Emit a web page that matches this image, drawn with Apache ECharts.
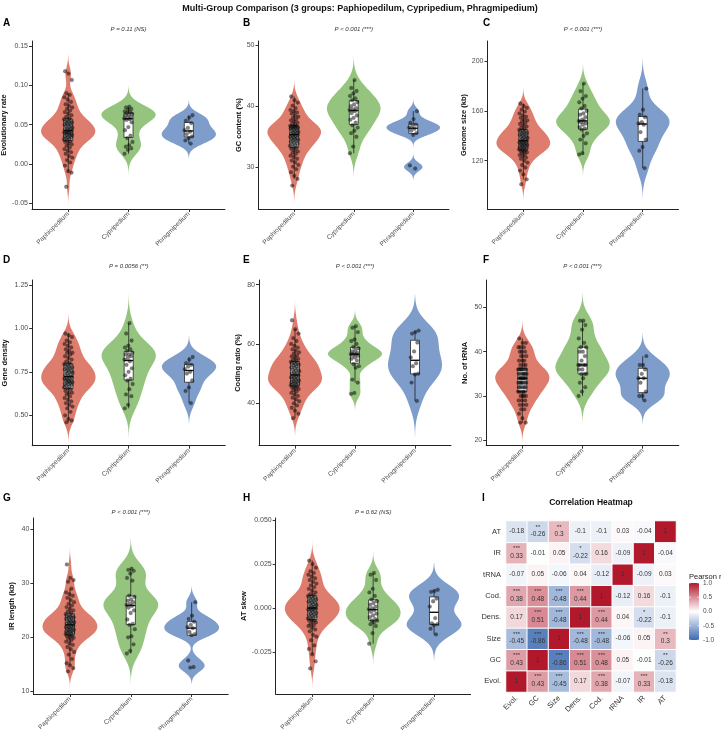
<!DOCTYPE html>
<html><head><meta charset="utf-8">
<script src="https://cdn.jsdelivr.net/npm/echarts@6/dist/echarts.min.js"></script>
<style>html,body{margin:0;padding:0;background:#fff}#c{width:721px;height:730px}</style>
</head><body><div id="c"></div>
<script>
// ---------------- DATA ----------------
const groups = ['Paphiopedilum', 'Cypripedium', 'Phragmipedium'];

const evol_Paph = [-0.029,-0.011,-0.009,-0.002,0.002,0.005,0.008,0.010,0.013,0.015,0.017,0.019,0.021,0.023,0.025,0.026,0.028,0.029,
  0.030,0.031,0.032,0.033,0.034,0.034,0.035,0.036,0.037,0.037,0.038,0.039,0.039,0.040,0.040,0.041,0.041,0.042,
  0.043,0.044,0.045,0.045,0.046,0.047,0.048,0.049,0.050,0.050,0.051,0.052,0.053,0.054,0.054,0.055,0.056,0.057,
  0.058,0.060,0.062,0.064,0.066,0.068,0.070,0.072,0.074,0.076,0.079,0.082,0.085,0.088,0.090,0.107,0.115,0.118];
const evol_Cyp = [0.073,0.072,0.070,0.069,0.067,0.066,0.065,0.064,0.063,0.062,0.060,0.059,0.058,0.057,0.056,0.053,0.047,0.043,0.036,0.033,0.028,0.024,0.022,0.020,0.018,0.013];
const evol_Phr = [0.062,0.059,0.055,0.052,0.046,0.043,0.041,0.038,0.035,0.033,0.030,0.026];

const gc_Paph = [27.0,28.1,28.6,29.2,29.7,30.1,30.4,30.8,31.1,31.4,31.7,31.9,32.2,32.4,32.6,32.8,33.0,33.2,
  33.3,33.5,33.6,33.8,33.9,34.0,34.2,34.3,34.4,34.5,34.6,34.7,34.8,34.9,35.0,35.1,35.2,35.3,
  35.4,35.5,35.6,35.7,35.8,35.9,36.0,36.1,36.2,36.3,36.4,36.5,36.5,36.6,36.6,36.7,36.7,36.8,
  36.9,37.1,37.3,37.5,37.7,37.9,38.1,38.3,38.5,38.8,39.0,39.2,39.4,39.7,40.1,40.6,41.0,41.6];
const gc_Cyp = [44.3,43.0,42.5,42.1,41.7,41.3,41.0,40.7,40.3,40.0,39.7,39.5,39.4,39.2,38.9,38.5,38.1,37.8,37.3,36.9,36.5,36.0,35.6,35.0,33.4,32.3];
const gc_Phr = [39.2,37.9,37.3,37.0,36.8,36.5,36.3,36.0,35.6,35.3,30.3,29.8];

const size_Paph = [101,105,109,112,114.5,116.5,118.5,120,121.5,122.5,123.5,124.5,125.3,126,126.7,127.3,127.9,128.4,
  128.8,129.2,129.7,130.1,130.5,131,131.4,131.8,132.2,132.6,133,133.4,133.8,134.2,134.6,135,135.4,135.8,
  136.3,136.8,137.3,137.8,138.3,138.8,139.3,139.8,140.3,140.8,141.3,141.8,142.3,142.8,143.3,143.8,144.3,144.8,
  145.5,146.5,147.5,148.5,149.5,150.5,151.5,152.5,153.5,154.5,155.5,156.5,158,159.5,161,162.5,164,166];
const size_Cyp = [182,176,172,170,167,164,162,160,158,157,155,153,152,152,151,150,149,147,146,145,142,140,137,134,126,125];
const size_Phr = [178,161,157,155,151,150,149,143,137,131,128,114];

const dens_Paph = [0.46,0.47,0.48,0.50,0.52,0.54,0.55,0.56,0.57,0.58,0.59,0.60,0.61,0.62,0.63,0.63,0.64,0.65,
  0.655,0.66,0.665,0.67,0.675,0.68,0.68,0.685,0.69,0.69,0.695,0.70,0.70,0.705,0.71,0.71,0.715,0.72,
  0.725,0.73,0.735,0.74,0.745,0.75,0.75,0.755,0.76,0.765,0.77,0.77,0.775,0.78,0.785,0.79,0.79,0.795,
  0.80,0.81,0.82,0.83,0.84,0.85,0.86,0.86,0.87,0.88,0.89,0.90,0.91,0.92,0.93,0.95,0.96,0.97];
const dens_Cyp = [1.03,0.97,0.93,0.90,0.89,0.88,0.87,0.86,0.85,0.85,0.84,0.83,0.82,0.81,0.79,0.77,0.75,0.73,0.71,0.70,0.68,0.65,0.62,0.61,0.56,0.54];
const dens_Phr = [0.835,0.82,0.80,0.79,0.78,0.765,0.75,0.74,0.70,0.66,0.64,0.57];

const cod_Paph = [35.0,36.5,37.5,38.5,39.3,40.0,40.7,41.3,41.9,42.5,43.0,43.5,44.0,44.4,44.8,45.1,45.4,45.7,
  45.9,46.1,46.3,46.5,46.7,46.9,47.1,47.3,47.5,47.7,47.9,48.1,48.4,48.6,48.8,49.0,49.2,49.4,
  49.7,50.0,50.2,50.5,50.8,51.0,51.3,51.6,51.9,52.1,52.4,52.7,53.0,53.2,53.4,53.6,53.8,54.0,
  54.3,54.6,55.0,55.4,55.8,56.2,56.7,57.2,57.7,58.2,58.8,59.4,60.0,61.0,62.0,63.5,65.0,68.0];
const cod_Cyp = [66.0,65.5,64.0,61.5,61.0,60.0,59.0,58.5,58.0,57.5,57.0,56.8,56.6,56.5,56.3,56.0,55.5,55.0,54.5,53.2,52.5,52.0,48.0,47.0,43.5,43.2];
const cod_Phr = [64.5,64.0,63.5,60.5,57.5,55.5,53.5,52.5,50.0,49.7,47.0,40.8];

const trna_Paph = [24,24,25,26,27,27,28,28,28,29,29,29,30,30,30,30,31,31,
  31,31,31,32,32,32,32,32,33,33,33,33,33,33,33,34,34,34,
  34,34,34,34,35,35,35,35,35,35,35,36,36,36,36,36,36,36,
  37,37,37,38,38,38,39,39,39,40,40,40,41,41,41,42,42,43];
const trna_Cyp = [47,47,46,45,43,42,41,41,40,40,39,38,37,37,37,37,36,36,35,35,35,34,33,32,31,30];
const trna_Phr = [39,37,37,36,35,34,34,33,31,30,30,29];

const ir_Paph = [13.7,14.3,14.8,15.2,16.0,16.8,17.3,17.8,18.2,18.6,18.9,19.2,19.5,19.7,19.9,20.1,20.2,20.3,
  20.5,20.6,20.7,20.8,20.9,21.0,21.1,21.2,21.3,21.4,21.5,21.6,21.7,21.8,21.9,22.0,22.1,22.2,
  22.4,22.5,22.6,22.7,22.8,22.9,23.0,23.1,23.2,23.4,23.5,23.6,23.7,23.8,23.9,24.0,24.1,24.3,
  24.5,24.8,25.0,25.3,25.6,25.9,26.2,26.5,26.9,27.3,27.7,28.0,28.3,29.0,30.3,30.6,31.0,33.5];
const ir_Cyp = [32.7,32.5,32.3,31.8,31.0,30.5,27.7,27.5,27.0,26.8,26.5,26.2,26.0,25.8,25.5,25.0,24.5,23.3,22.5,22.3,21.5,20.2,20.0,18.7,17.5,17.0];
const ir_Phr = [26.5,24.0,23.4,22.9,22.3,21.9,21.7,21.0,20.6,20.4,15.7,14.5,14.4];

const at_Paph = [-0.034,-0.030,-0.026,-0.023,-0.021,-0.018,-0.016,-0.015,-0.013,-0.012,-0.011,-0.010,-0.0095,-0.009,-0.008,-0.0075,-0.007,-0.0068,
  -0.0062,-0.0058,-0.0054,-0.005,-0.0046,-0.0042,-0.0038,-0.0034,-0.003,-0.0026,-0.0022,-0.0018,-0.0014,-0.001,-0.0007,-0.0004,-0.0002,0.0,
  0.0003,0.0007,0.001,0.0014,0.0018,0.0022,0.0026,0.003,0.0034,0.0038,0.0042,0.0046,0.005,0.0054,0.0058,0.0062,0.0066,0.007,
  0.0075,0.008,0.009,0.010,0.011,0.012,0.013,0.014,0.015,0.016,0.017,0.018,0.019,0.020,0.021,0.023,0.025,0.027];
const at_Cyp = [0.020,0.019,0.016,0.011,0.009,0.007,0.005,0.004,0.003,0.002,0.001,0.0,-0.0005,-0.001,-0.002,-0.003,-0.004,-0.005,-0.006,-0.007,-0.007,-0.008,-0.009,-0.010,-0.014,-0.020];
const at_Phr = [0.0105,0.0098,0.0093,0.0055,0.004,0.001,-0.0055,-0.0085,-0.009,-0.0095,-0.0115,-0.0148];

const yTitles = ['Evolutionary rate','GC content (%)','Genome size (kb)','Gene density','Coding ratio (%)','No. of tRNA','IR length (kb)','AT skew'];
const pTexts = ['P = 0.11 (NS)','P < 0.001 (***)','P < 0.001 (***)','P = 0.0056 (**)','P < 0.001 (***)','P < 0.001 (***)','P < 0.001 (***)','P = 0.62 (NS)'];
const panelLetters = ['A','B','C','D','E','F','G','H'];
const evolTicks = [-0.05,0,0.05,0.10,0.15];
const gcTicks = [30,40,50];
const sizeTicks = [120,160,200];
const densTicks = [0.50,0.75,1.00,1.25];
const codTicks = [40,60,80];
const trnaTicks = [20,30,40,50];
const irTicks = [10,20,30,40];
const atTicks = [-0.025,0,0.025,0.050];

const corrVars = ['Evol.','GC','Size','Dens.','Cod.','tRNA','IR','AT'];
const corrMatrix = [
  [1, 0.43, -0.45, 0.17, 0.38, -0.07, 0.33, -0.18],
  [0.43, 1, -0.86, 0.51, 0.48, 0.05, -0.01, -0.26],
  [-0.45, -0.86, 1, -0.48, -0.48, -0.06, 0.05, 0.3],
  [0.17, 0.51, -0.48, 1, 0.44, 0.04, -0.22, -0.1],
  [0.38, 0.48, -0.48, 0.44, 1, -0.12, 0.16, -0.1],
  [-0.07, 0.05, -0.06, 0.04, -0.12, 1, -0.09, 0.03],
  [0.33, -0.01, 0.05, -0.22, 0.16, -0.09, 1, -0.04],
  [-0.18, -0.26, 0.3, -0.1, -0.1, 0.03, -0.04, 1]
];
const corrStars = [
  ['', '***', '***', '', '***', '', '***', ''],
  ['***', '', '***', '***', '***', '', '', '**'],
  ['***', '***', '', '***', '***', '', '', '**'],
  ['', '***', '***', '', '***', '', '*', ''],
  ['***', '***', '***', '***', '', '', '', ''],
  ['', '', '', '', '', '', '', ''],
  ['***', '', '', '*', '', '', '', ''],
  ['', '**', '**', '', '', '', '', '']
];
const legendTicks = [1.0, 0.5, 0.0, -0.5, -1.0];

// ---------------- STYLE / LAYOUT ----------------
const FONT = '"Liberation Sans", Arial, Helvetica, sans-serif';
const fillColors = ['#DE7C6D', '#94C47D', '#7E9DCB'];
const hmLow = '#3E6BB2', hmMid = '#FFFFFF', hmHigh = '#B2182B';

const panels = [
  {d:[evol_Paph,evol_Cyp,evol_Phr], ticks:evolTicks, dec:2, l:32, r:225, t:41, b:209, min:-0.0573, max:0.1565, nameGap:19},
  {d:[gc_Paph,gc_Cyp,gc_Phr], ticks:gcTicks, dec:0, l:258.5, r:449, t:41, b:209, min:23.16, max:50.70, nameGap:12},
  {d:[size_Paph,size_Cyp,size_Phr], ticks:sizeTicks, dec:0, l:487.5, r:678.5, t:41, b:209, min:81.1, max:216.3, nameGap:15},
  {d:[dens_Paph,dens_Cyp,dens_Phr], ticks:densTicks, dec:2, l:32.2, r:225.2, t:280, b:445.7, min:0.3253, max:1.2776, nameGap:19},
  {d:[cod_Paph,cod_Cyp,cod_Phr], ticks:codTicks, dec:0, l:259, r:451, t:280, b:445.7, min:25.71, max:81.56, nameGap:13},
  {d:[trna_Paph,trna_Cyp,trna_Phr], ticks:trnaTicks, dec:0, l:486.2, r:678.8, t:280, b:445.7, min:18.78, max:56.18, nameGap:13},
  {d:[ir_Paph,ir_Cyp,ir_Phr], ticks:irTicks, dec:0, l:33.4, r:228.2, t:518, b:694, min:9.5, max:42.09, nameGap:13},
  {d:[at_Paph,at_Cyp,at_Phr], ticks:atTicks, dec:3, l:275.7, r:470.6, t:518, b:694, min:-0.04847, max:0.05108, nameGap:22}
];
const rowLabelY = [23, 23, 23, 260, 260, 260, 498, 498];
const rowPY = [29, 29, 29, 266, 266, 266, 512, 512];
const letterX = [3, 243, 483, 3, 243, 483, 3, 243];

// ---------------- HELPERS ----------------
function quant(s, p) { const h = (s.length - 1) * p, l = Math.floor(h); const u = Math.min(l + 1, s.length - 1); return s[l] + (h - l) * (s[u] - s[l]); }
function kde(vals) {
  const s = [...vals].sort((a, b) => a - b), n = s.length;
  const mean = s.reduce((a, b) => a + b, 0) / n;
  const sd = Math.sqrt(s.reduce((a, b) => a + (b - mean) * (b - mean), 0) / (n - 1));
  const iqr = quant(s, 0.75) - quant(s, 0.25);
  let lo = Math.min(sd, iqr / 1.34); if (!(lo > 0)) lo = sd;
  const bw = 0.9 * lo * Math.pow(n, -0.2);
  const a = s[0] - 3 * bw, b = s[n - 1] + 3 * bw, m = 256;
  const ys = [], ds = []; let mx = 0;
  for (let i = 0; i <= m; i++) {
    const y = a + (b - a) * i / m; let d = 0;
    for (const v of s) { const z = (y - v) / bw; d += Math.exp(-0.5 * z * z); }
    d /= n * bw * Math.sqrt(2 * Math.PI); ys.push(y); ds.push(d); if (d > mx) mx = d;
  }
  return {ys, ds, max: mx};
}
function boxStats(vals) {
  const s = [...vals].sort((a, b) => a - b);
  const q1 = quant(s, 0.25), q3 = quant(s, 0.75), med = quant(s, 0.5), iqr = q3 - q1;
  const lo = s.find(v => v >= q1 - 1.5 * iqr), hi = [...s].reverse().find(v => v <= q3 + 1.5 * iqr);
  return {q1, q3, med, lo, hi};
}
function jit(i) { return (((i * 0.6180339887 + 0.27) % 1) * 2 - 1) * 0.072; }
function fmt(v, dec) { return v.toFixed(dec); }

// ---------------- BUILD ----------------
const grid = [], xAxis = [], yAxis = [], series = [], graphic = [];
panels.forEach((P, pi) => {
  grid.push({left: P.l, top: P.t, width: P.r - P.l, height: P.b - P.t, outerBoundsMode: 'none', containLabel: false});
  xAxis.push({
    gridIndex: pi, type: 'value', min: 0.4, max: 3.6,
    axisLine: {show: true, onZero: false, lineStyle: {color: '#222', width: 1}},
    axisTick: {show: true, customValues: [1, 2, 3], length: 3, lineStyle: {color: '#333'}},
    axisLabel: {show: true, customValues: [1, 2, 3], rotate: 45, fontSize: 6.5, color: '#4D4D4D', margin: 4, fontFamily: FONT,
      formatter: v => groups[Math.round(v) - 1]},
    splitLine: {show: false}
  });
  yAxis.push({
    gridIndex: pi, type: 'value', min: P.min, max: P.max,
    name: yTitles[pi], nameLocation: 'middle', nameGap: P.nameGap + 4,
    nameTextStyle: {fontSize: 7.5, fontWeight: 'bold', color: '#111', fontFamily: FONT},
    axisLine: {show: true, onZero: false, lineStyle: {color: '#222', width: 1}},
    axisTick: {show: true, customValues: P.ticks, length: 3, lineStyle: {color: '#333'}},
    axisLabel: {show: true, customValues: P.ticks, fontSize: 7, color: '#4D4D4D', margin: 4, fontFamily: FONT,
      formatter: v => fmt(v, P.dec)},
    splitLine: {show: false}
  });
  const dens = P.d.map(kde);
  const boxes = P.d.map(boxStats);
  series.push({
    type: 'custom', xAxisIndex: pi, yAxisIndex: pi, silent: true, z: 1,
    data: dens.map((d, i) => [i + 1, d.ys[0], d.ys[d.ys.length - 1]]),
    encode: {x: 0, y: [1, 2]},
    renderItem: (params, api) => {
      const i = params.dataIndex, d = dens[i], cx = i + 1, pts = [];
      for (let k = 0; k < d.ys.length; k++) pts.push(api.coord([cx + 0.45 * d.ds[k] / d.max, d.ys[k]]));
      for (let k = d.ys.length - 1; k >= 0; k--) pts.push(api.coord([cx - 0.45 * d.ds[k] / d.max, d.ys[k]]));
      return {type: 'polygon', shape: {points: pts}, style: {fill: fillColors[i], stroke: null}};
    }
  });
  series.push({
    type: 'custom', xAxisIndex: pi, yAxisIndex: pi, silent: true, z: 2,
    data: boxes.map((b, i) => [i + 1, b.lo, b.hi]),
    encode: {x: 0, y: [1, 2]},
    renderItem: (params, api) => {
      const i = params.dataIndex, b = boxes[i], cx = i + 1, hw = 0.075;
      const tl = api.coord([cx - hw, b.q3]), br = api.coord([cx + hw, b.q1]);
      const m1 = api.coord([cx - hw, b.med]), m2 = api.coord([cx + hw, b.med]);
      const wh = api.coord([cx, b.hi]), w3 = api.coord([cx, b.q3]), w1 = api.coord([cx, b.q1]), wl = api.coord([cx, b.lo]);
      const ls = {stroke: '#111', lineWidth: 0.7};
      return {type: 'group', children: [
        {type: 'line', shape: {x1: wh[0], y1: wh[1], x2: w3[0], y2: w3[1]}, style: ls},
        {type: 'line', shape: {x1: w1[0], y1: w1[1], x2: wl[0], y2: wl[1]}, style: ls},
        {type: 'rect', shape: {x: tl[0], y: tl[1], width: br[0] - tl[0], height: br[1] - tl[1]}, style: {fill: '#fff', stroke: '#111', lineWidth: 0.7}},
        {type: 'line', shape: {x1: m1[0], y1: m1[1], x2: m2[0], y2: m2[1]}, style: {stroke: '#111', lineWidth: 1.4}}
      ]};
    }
  });
  const pts = [];
  P.d.forEach((arr, gi) => arr.forEach((v, i) => pts.push([gi + 1 + jit(i + gi * 7), v])));
  series.push({
    type: 'scatter', xAxisIndex: pi, yAxisIndex: pi, silent: true, z: 3, data: pts,
    symbolSize: 3.8, itemStyle: {color: 'rgba(0,0,0,0.62)', borderColor: 'rgba(40,40,40,0.5)', borderWidth: 0.4}
  });
  graphic.push({type: 'text', x: letterX[pi], y: rowLabelY[pi],
    style: {text: panelLetters[pi], font: 'bold 10px ' + FONT, fill: '#000', textVerticalAlign: 'middle', textAlign: 'left'}, silent: true});
  graphic.push({type: 'text', x: (P.l + P.r) / 2, y: rowPY[pi],
    style: {text: pTexts[pi], font: 'italic 6px ' + FONT, fill: '#333', textAlign: 'center', textVerticalAlign: 'middle'}, silent: true});
});

// heatmap
const hmIdx = panels.length;
grid.push({left: 506, top: 521, width: 170, height: 171, outerBoundsMode: 'none', containLabel: false});
xAxis.push({gridIndex: hmIdx, type: 'category', data: corrVars, axisLine: {show: false}, axisTick: {show: false}, splitLine: {show: false},
  axisLabel: {rotate: 45, fontSize: 7.5, color: '#333', margin: 5, fontFamily: FONT}});
yAxis.push({gridIndex: hmIdx, type: 'category', data: corrVars, axisLine: {show: false}, axisTick: {show: false}, splitLine: {show: false},
  axisLabel: {fontSize: 7.5, color: '#333', margin: 5, fontFamily: FONT}});
const hmData = [];
corrVars.forEach((rv, yi) => corrVars.forEach((cv, xi) => hmData.push([xi, yi, corrMatrix[yi][xi]])));
series.push({
  type: 'heatmap', xAxisIndex: hmIdx, yAxisIndex: hmIdx, data: hmData,
  itemStyle: {borderColor: '#fff', borderWidth: 1},
  label: {show: true, fontFamily: FONT,
    formatter: p => { const s = corrStars[p.value[1]][p.value[0]]; const v = String(p.value[2]);
      return s ? '{s|' + s + '}\n{v|' + v + '}' : '{v|' + v + '}'; },
    rich: {s: {fontSize: 6, color: '#333', lineHeight: 6, fontFamily: FONT}, v: {fontSize: 6.5, color: '#333', lineHeight: 9, fontFamily: FONT}}},
  emphasis: {disabled: true}
});
const visualMap = [{show: false, type: 'continuous', min: -1, max: 1, seriesIndex: series.length - 1, inRange: {color: [hmLow, hmMid, hmHigh]}}];

// titles & legend
graphic.push({type: 'text', x: 360, y: 9, style: {text: 'Multi-Group Comparison (3 groups: Paphiopedilum, Cypripedium, Phragmipedium)', font: 'bold 9px ' + FONT, fill: '#111', textAlign: 'center', textVerticalAlign: 'middle'}});
graphic.push({type: 'text', x: 482, y: 498, style: {text: 'I', font: 'bold 10px ' + FONT, fill: '#000', textAlign: 'left', textVerticalAlign: 'middle'}});
graphic.push({type: 'text', x: 591, y: 503, style: {text: 'Correlation Heatmap', font: 'bold 8.5px ' + FONT, fill: '#111', textAlign: 'center', textVerticalAlign: 'middle'}});
graphic.push({type: 'text', x: 689, y: 577, style: {text: 'Pearson r', font: '7.5px ' + FONT, fill: '#222', textAlign: 'left', textVerticalAlign: 'middle'}});
const barTop = 583, barH = 57;
graphic.push({type: 'rect', shape: {x: 689, y: barTop, width: 10, height: barH},
  style: {fill: new echarts.graphic.LinearGradient(0, 0, 0, 1, [{offset: 0, color: hmHigh}, {offset: 0.5, color: hmMid}, {offset: 1, color: hmLow}])}});
legendTicks.forEach(t => {
  const y = barTop + (1 - t) / 2 * barH;
  graphic.push({type: 'text', x: 703, y: y, style: {text: t.toFixed(1), font: '6.5px ' + FONT, fill: '#4D4D4D', textAlign: 'left', textVerticalAlign: 'middle'}});
  graphic.push({type: 'line', shape: {x1: 689, y1: y, x2: 691, y2: y}, style: {stroke: '#fff', lineWidth: 0.6}});
  graphic.push({type: 'line', shape: {x1: 697, y1: y, x2: 699, y2: y}, style: {stroke: '#fff', lineWidth: 0.6}});
});

const chart = echarts.init(document.getElementById('c'), null, {renderer: 'canvas'});
chart.setOption({
  animation: false, backgroundColor: '#fff',
  textStyle: {fontFamily: FONT},
  grid, xAxis, yAxis, series, visualMap, graphic
});
</script></body></html>
